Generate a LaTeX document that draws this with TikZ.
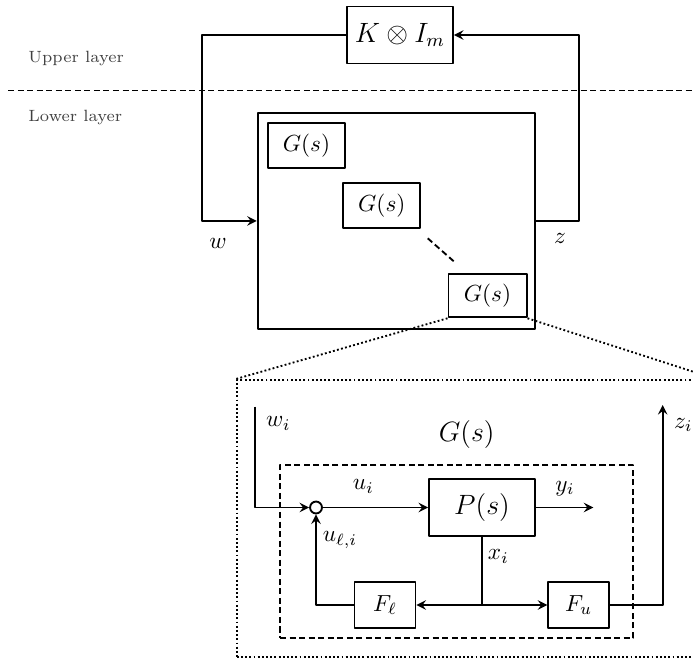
\documentclass[tikz,border=0pt]{standalone}
\usepackage{amsmath}
\usetikzlibrary{positioning}
\tikzset{
  blk/.style={draw, thick, inner sep=0pt},
  lbl/.style={inner sep=1pt},
  dsh/.style={dash pattern=on 2.6pt off 1.5pt, thick},
  layer/.style={font=\scriptsize, text=black!75, anchor=west, inner sep=0pt}
}
\begin{document}
\begin{tikzpicture}[x=1.51cm, y=-1.51cm, line join=round, >=stealth]
		\useasboundingbox (0,0) rectangle (6.93,6.59);
		% upper layer
		\node[blk, minimum width=1.6cm, minimum height=0.86cm] (K) at (4.0,0.35) {\large $K\otimes I_m$};
		\draw[dsh] (0.08,0.905) -- (6.93,0.905);
		\node[layer] (up) at (0.28,0.59) {Upper layer};
		\node[layer] (low) at (0.28,1.18) {Lower layer};
		% lower layer
		\node[blk, minimum width=4.19cm, minimum height=3.27cm] (lower) at (3.964,2.209) {};
		\node[blk, minimum width=1.16cm, minimum height=0.68cm] (G1) at (3.065,1.453) {$G(s)$};
		\node[blk, minimum width=1.16cm, minimum height=0.68cm] (G2) at (3.818,2.055) {$G(s)$};
		\node[blk, minimum width=1.18cm, minimum height=0.66cm] (G3) at (4.875,2.955) {$G(s)$};
		\draw[dsh] (4.277,2.383) -- (4.56,2.633);
		\draw[thick, ->] (K.west) -- (2.017,0.35) |- (lower.west);
		\draw[thick, ->] (lower.east) -| (5.79,0.35) -- (K.east);
		\node[lbl] (w) at (2.18,2.43) {$w$};
		\node[lbl] (z) at (5.60,2.38) {$z$};
		% zoom of one G(s)
		\node[draw, densely dotted, thick, minimum width=7.22cm, minimum height=4.18cm] (zoom) at (4.7585,5.1835) {};
		\draw[densely dotted, thick] (G3.south west) -- (zoom.north west);
		\draw[densely dotted, thick] (G3.south east) -- (zoom.north east);
		\node[draw, dsh, minimum width=5.335cm, minimum height=2.603cm] (Gbox) at (4.5665,5.515) {};
		\node[lbl] (Glab) at (4.667,4.35) {\large $G(s)$};
		\node[draw, thick, circle, minimum size=0.18cm, inner sep=0pt] (sum) at (3.16,5.075) {};
		\node[blk, minimum width=1.6cm, minimum height=0.86cm] (P) at (4.82,5.075) {\large $P(s)$};
		\node[blk, minimum width=0.92cm, minimum height=0.69cm] (Fl) at (3.85,6.05) {$F_\ell$};
		\node[blk, minimum width=0.92cm, minimum height=0.69cm] (Fu) at (5.787,6.05) {$F_u$};
		\coordinate (wi) at (2.55,4.067);
		\coordinate (yi) at (5.933,5.075);
		\coordinate (zi) at (6.627,4.05);
		\coordinate (junc) at (P.south |- Fl.east);
		\draw[thick, ->] (wi) |- (sum.west);
		\draw[thick, ->] (sum) -- (P);
		\draw[thick, ->] (P) -- (yi);
		\draw[thick] (P.south) -- (junc);
		\draw[thick, ->] (junc) -- (Fl);
		\draw[thick, ->] (junc) -- (Fu);
		\draw[thick, ->] (Fl) -| (sum);
		\draw[thick, ->] (Fu) -| (zi);
		\node[lbl] (wil) at (2.783,4.233) {$w_i$};
		\node[lbl] (uil) at (3.633,4.867) {$u_i$};
		\node[lbl] (yil) at (5.65,4.883) {$y_i$};
		\node[lbl] (xil) at (4.983,5.567) {$x_i$};
		\node[lbl] (ulil) at (3.40,5.40) {$u_{\ell,i}$};
		\node[lbl] (zil) at (6.833,4.25) {$z_i$};
		\end{tikzpicture}
\end{document}
